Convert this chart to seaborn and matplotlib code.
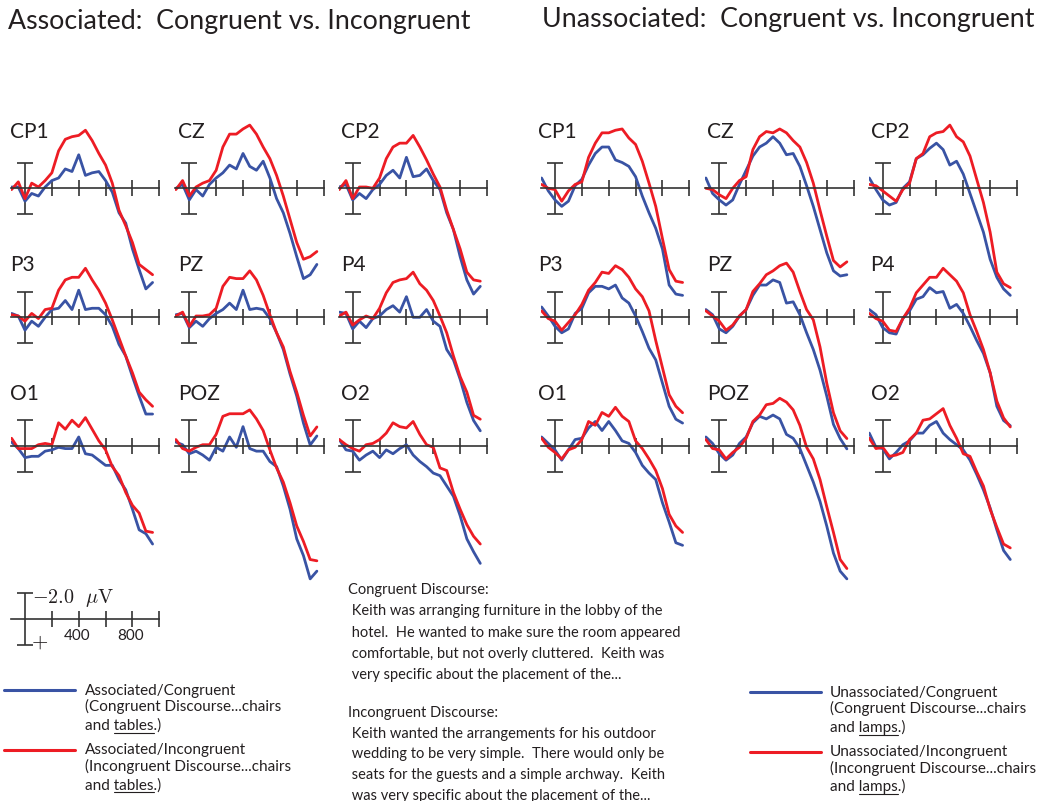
import matplotlib
matplotlib.use("Agg")
from matplotlib import pyplot as plt
from matplotlib.lines import Line2D
import seaborn as sns
import pandas as pd

# sample times (ms) of the digitised waveforms
TIMES = [-100, -50, 0, 50, 100, 150, 200, 250, 300, 350, 400,
         450, 500, 550, 600, 650, 700, 750, 800, 850, 900, 950]

ELECTRODES = [["CP1", "CZ", "CP2"], ["P3", "PZ", "P4"], ["O1", "POZ", "O2"]]

# amplitudes in microvolts (negative plotted up)
ASSOC_CONG = {
    "CP1": [-0.1, -0.1, 1.0, 0.4, 0.6, -0.1, -0.6, -0.8, -1.5, -1.3, -2.6, -1.0, -1.2, -1.3, -0.6, 0.3, 1.9, 2.7, 4.7, 6.3, 7.8, 7.3],
    "CZ": [0.0, -0.3, 0.9, 0.1, 0.6, -0.3, -0.8, -1.2, -1.8, -1.5, -2.7, -1.7, -1.4, -2.1, -0.8, 0.8, 1.9, 3.5, 5.3, 7.0, 6.7, 5.9],
    "CP2": [-0.1, -0.3, 0.9, 0.4, 0.8, 0.1, -0.3, -1.0, -1.4, -0.8, -2.4, -0.9, -1.0, -1.5, -0.6, 0.1, 1.9, 3.2, 5.3, 7.1, 8.2, 7.6],
    "P3": [-0.3, -0.1, 1.0, 0.3, 0.7, 0.0, -0.6, -0.7, -1.3, -0.6, -2.1, -0.6, -0.7, -0.7, -0.2, 0.7, 2.1, 3.0, 4.6, 6.1, 7.5, 7.5],
    "PZ": [-0.2, -0.3, 0.8, 0.3, 0.7, 0.1, -0.3, -0.6, -1.1, -0.6, -2.1, -0.6, -0.7, -0.6, 0.1, 1.2, 2.5, 4.4, 6.1, 8.2, 9.9, 9.2],
    "P4": [-0.4, -0.3, 0.9, 0.3, 0.8, 0.1, -0.1, -0.6, -0.9, -0.4, -1.6, 0.0, 0.0, -0.6, 0.3, 0.7, 2.5, 3.3, 4.8, 6.6, 8.0, 8.8],
    "O1": [-0.3, 0.2, 0.9, 0.8, 0.8, 0.4, 0.3, 0.1, 0.2, 0.2, -0.7, 0.6, 0.7, 1.1, 1.5, 1.5, 2.6, 3.4, 4.9, 6.5, 6.8, 7.6],
    "POZ": [-0.3, -0.1, 0.6, 0.4, 0.7, 1.1, 0.1, 0.4, -0.7, 0.1, -1.5, 0.2, 0.4, 0.4, 1.2, 1.6, 3.1, 4.9, 7.2, 8.5, 10.3, 9.7],
    "O2": [-0.5, 0.3, 0.4, 1.1, 0.7, 0.4, 0.9, 0.3, 0.6, 0.2, -0.1, 0.7, 1.2, 1.6, 2.1, 2.3, 3.1, 3.9, 5.4, 7.2, 8.2, 9.1],
}
ASSOC_INCONG = {
    "CP1": [0.1, -0.5, 0.8, -0.4, -0.1, -0.6, -1.2, -2.9, -3.8, -4.0, -4.1, -4.5, -3.7, -2.7, -1.8, -0.4, 1.7, 2.9, 4.2, 5.9, 6.3, 6.7],
    "CZ": [0.1, -0.6, 0.6, -0.1, -0.4, -0.6, -1.4, -3.2, -4.2, -4.2, -4.6, -4.9, -4.2, -3.2, -2.3, -1.0, 0.6, 2.4, 4.2, 5.5, 5.3, 4.9],
    "CP2": [0.1, -0.6, 0.8, -0.1, -0.1, 0.0, -0.8, -2.3, -3.2, -3.5, -3.5, -4.1, -3.2, -2.2, -1.1, -0.1, 1.7, 3.2, 4.7, 6.5, 7.1, 7.2],
    "P3": [-0.2, -0.1, 0.3, -0.3, 0.1, -0.6, -0.7, -2.1, -2.9, -3.1, -3.1, -3.8, -2.9, -2.1, -1.1, 0.2, 1.6, 3.0, 4.3, 5.8, 6.4, 6.9],
    "PZ": [-0.1, -0.4, 0.7, -0.1, -0.1, -0.2, -0.7, -2.4, -3.1, -3.0, -3.0, -3.6, -2.9, -1.7, -0.2, 1.2, 2.3, 4.2, 5.8, 7.6, 9.2, 8.5],
    "P4": [-0.1, -0.4, 0.6, 0.2, -0.1, 0.1, -0.7, -1.9, -2.7, -2.9, -3.0, -3.5, -2.6, -2.1, -1.3, -0.1, 1.2, 3.0, 4.6, 5.8, 7.6, 7.9],
    "O1": [-0.6, 0.2, 0.2, 0.2, -0.1, -0.2, -0.1, -1.8, -1.3, -2.0, -1.5, -2.2, -1.3, -0.4, 0.3, 1.6, 2.3, 3.6, 4.6, 5.2, 6.6, 6.7],
    "POZ": [-0.5, 0.2, 0.4, 0.1, -0.1, -0.1, -0.9, -2.3, -2.5, -2.5, -2.5, -2.8, -2.1, -1.2, 0.3, 1.7, 2.8, 4.4, 6.2, 7.4, 8.8, 8.9],
    "O2": [-0.5, -0.1, 0.2, 0.4, -0.1, -0.2, -0.5, -1.0, -1.8, -1.5, -1.4, -1.9, -0.9, -0.1, 0.1, 1.7, 1.9, 3.6, 4.9, 6.1, 7.0, 7.6],
}
UNASSOC_CONG = {
    "CP1": [-0.8, 0.2, 0.9, 1.4, 1.0, -0.2, -0.7, -1.8, -2.7, -3.2, -3.2, -2.2, -2.0, -1.7, -0.9, 0.6, 1.9, 3.1, 4.7, 7.5, 8.2, 8.3],
    "CZ": [-0.8, 0.4, 0.9, 1.3, 0.9, -0.3, -1.4, -2.5, -3.2, -3.5, -4.0, -3.5, -2.6, -2.7, -1.7, -0.2, 1.4, 3.2, 5.0, 6.4, 6.8, 6.7],
    "CP2": [-0.8, 0.1, 0.9, 1.3, 1.1, 0.0, -0.5, -2.3, -2.6, -3.1, -3.5, -3.0, -1.8, -2.1, -1.1, 0.4, 1.9, 3.4, 5.5, 6.9, 7.8, 8.3],
    "P3": [-0.8, -0.1, 0.7, 1.2, 0.9, -0.3, -0.7, -1.9, -2.4, -2.4, -2.2, -2.5, -1.5, -1.1, -0.1, 1.1, 2.4, 3.3, 5.1, 6.9, 7.9, 8.2],
    "PZ": [-0.6, -0.2, 0.9, 1.2, 0.7, -0.1, -0.6, -1.7, -2.5, -2.5, -2.9, -2.7, -1.1, -1.2, -0.2, 1.2, 2.5, 4.1, 6.1, 8.3, 9.4, 10.2],
    "P4": [-0.6, -0.2, 0.8, 1.2, 1.3, 0.1, -0.5, -1.4, -1.6, -2.3, -1.9, -2.0, -0.7, -1.0, -0.3, 0.7, 1.8, 2.8, 4.3, 6.9, 8.0, 8.4],
    "O1": [-0.7, -0.2, 0.3, 1.1, 0.3, -0.5, -0.6, -1.4, -1.9, -1.2, -1.9, -1.2, -0.4, -0.2, 0.5, 1.5, 2.1, 2.6, 4.4, 5.9, 7.5, 7.7],
    "POZ": [-0.7, -0.2, 0.6, 1.1, 0.7, -0.2, -0.7, -1.8, -2.3, -2.1, -2.4, -2.1, -0.9, -0.6, 0.2, 1.5, 2.8, 4.3, 6.2, 8.3, 9.7, 10.3],
    "O2": [-1.0, 0.1, 0.2, 1.0, 0.5, -0.1, -0.4, -1.0, -1.0, -1.6, -1.9, -1.0, -0.5, -0.1, 0.3, 1.1, 2.2, 3.4, 4.8, 6.5, 8.1, 8.8],
}
UNASSOC_INCONG = {
    "CP1": [-0.3, 0.0, 0.1, 1.0, 0.2, -0.3, -0.5, -2.4, -3.5, -4.3, -4.3, -4.5, -4.6, -3.9, -3.4, -2.1, -0.4, 1.4, 3.9, 6.3, 7.2, 7.3],
    "CZ": [0.0, 0.1, 0.5, 0.8, 0.0, -0.6, -0.9, -3.0, -4.0, -4.4, -4.3, -4.6, -4.3, -3.7, -3.2, -2.0, -0.4, 1.7, 3.7, 5.6, 6.1, 5.7],
    "CP2": [-0.3, -0.2, 0.2, 0.6, 1.0, 0.1, -0.4, -2.3, -2.7, -4.0, -4.3, -4.4, -4.9, -4.0, -3.6, -2.5, -0.7, 1.1, 3.4, 6.5, 7.4, 7.7],
    "P3": [-0.5, 0.1, 0.3, 1.0, 0.4, -0.2, -1.0, -2.1, -2.7, -3.5, -3.4, -4.0, -3.7, -3.1, -2.2, -1.6, -0.5, 1.8, 3.9, 6.0, 6.9, 7.4],
    "PZ": [-0.5, -0.1, 0.3, 1.0, 0.6, -0.1, -0.6, -2.0, -2.6, -3.3, -3.6, -4.0, -4.2, -3.5, -2.0, -0.6, 0.2, 2.3, 5.1, 7.4, 8.8, 9.4],
    "P4": [-0.3, 0.1, 0.3, 1.0, 1.1, 0.1, -0.7, -1.9, -2.5, -3.1, -3.1, -3.8, -3.3, -2.8, -1.9, -0.2, 1.1, 2.5, 4.3, 6.5, 7.8, 8.5],
    "O1": [-0.6, 0.1, 0.5, 1.0, 0.3, 0.1, -0.5, -1.9, -1.6, -2.6, -2.3, -3.0, -2.3, -1.9, -0.4, 0.2, 1.0, 1.9, 3.3, 5.3, 6.2, 6.7],
    "POZ": [-0.5, 0.2, 0.3, 1.0, 0.5, 0.1, -0.6, -1.9, -2.4, -3.2, -3.3, -3.7, -3.4, -2.8, -1.6, 0.1, 1.0, 2.6, 4.7, 6.7, 8.8, 9.5],
    "O2": [-0.6, 0.2, 0.1, 0.8, 0.7, 0.5, -0.5, -1.0, -2.0, -2.1, -2.5, -2.9, -1.6, -0.6, 0.6, 0.8, 2.0, 3.1, 4.9, 6.3, 7.6, 7.9],
}

TITLES = ["Associated:  Congruent vs. Incongruent", "Unassociated:  Congruent vs. Incongruent"]

CONG_TEXT = [
    "Congruent Discourse:",
    " Keith was arranging furniture in the lobby of the",
    " hotel.  He wanted to make sure the room appeared",
    " comfortable, but not overly cluttered.  Keith was",
    " very specific about the placement of the...",
]
INCONG_TEXT = [
    "Incongruent Discourse:",
    " Keith wanted the arrangements for his outdoor",
    " wedding to be very simple.  There would only be",
    " seats for the guests and a simple archway.  Keith",
    " was very specific about the placement of the...",
]

BLUE = "#3953A4"
RED = "#ED1C24"
AXC = "#333333"
TXT = "#231F20"

W, H = 1050, 801
PX_MS = 0.1343   # pixels per ms
PX_UV = 12.9     # pixels per microvolt


def fy(py):
    return 1 - py / H


def make_panel(fig, x0, y0, top=75, bottom=140):
    left = x0 - 105 * PX_MS
    ax = fig.add_axes([left / W, fy(y0 + bottom), 1105 * PX_MS / W, (top + bottom) / H])
    ax.patch.set_visible(False)
    for s in ["top", "right", "left"]:
        ax.spines[s].set_visible(False)
    ax.spines["bottom"].set_position(("data", 0))
    ax.spines["bottom"].set_color(AXC)
    ax.spines["bottom"].set_linewidth(1.2)
    ax.set_xticks([200, 400, 600, 800, 1000])
    ax.set_xticklabels([])
    ax.set_yticks([])
    ax.tick_params(axis="x", bottom=True, direction="inout", length=12,
                   width=1.2, color=AXC)
    ax.errorbar([0], [0], yerr=[[2], [2]], fmt="none", ecolor=AXC,
                elinewidth=1.2, capsize=6, capthick=1.2)
    ax.set_xlim(-105, 1000)
    ax.set_ylim(bottom / PX_UV, -top / PX_UV)
    return ax


def plot_panel(ax, cong, incong):
    n = len(TIMES)
    df = pd.DataFrame({
        "time": TIMES + TIMES,
        "uv": cong + incong,
        "cond": ["Congruent"] * n + ["Incongruent"] * n,
    })
    sns.lineplot(data=df, x="time", y="uv", hue="cond",
                 palette={"Congruent": BLUE, "Incongruent": RED},
                 estimator=None, linewidth=2.0, legend=False, ax=ax)
    ax.set_xlabel("")
    ax.set_ylabel("")
    ax.set_xlim(-105, 1000)


def text_width(fig, s, **kw):
    r = fig.canvas.get_renderer()
    t = fig.text(0, 0, s, **kw)
    w = t.get_window_extent(renderer=r).width
    t.remove()
    return w


def underlined(fig, x, y, pre, word, post, **kw):
    # text on baseline y (pixels) with one underlined word
    fig.text(x / W, fy(y), pre + word + post, va="baseline", **kw)
    x0 = x + text_width(fig, pre + word, **kw) - text_width(fig, word, **kw)
    x1 = x + text_width(fig, pre + word, **kw)
    fig.add_artist(Line2D([x0 / W, x1 / W], [fy(y + 2.5), fy(y + 2.5)],
                          color=TXT, lw=0.8, transform=fig.transFigure))


sns.set_style("white")
plt.rcParams["font.family"] = ["Lato", "DejaVu Sans"]
plt.rcParams["mathtext.fontset"] = "cm"

fig = plt.figure(figsize=(10.5, 8.01), dpi=100)

COL_X = [[25, 189.3, 352.7], [555, 719.3, 882.7]]
LABEL_X = [[10, 178, 341.5], [538, 707, 870.5]]
ROW_Y = [188.3, 317.3, 446.0]
LABEL_Y = [132, 265, 394]
GROUPS = [(ASSOC_CONG, ASSOC_INCONG), (UNASSOC_CONG, UNASSOC_INCONG)]

for g, (cong, incong) in enumerate(GROUPS):
    for r, row in enumerate(ELECTRODES):
        for c, name in enumerate(row):
            ax = make_panel(fig, COL_X[g][c], ROW_Y[r])
            plot_panel(ax, cong[name], incong[name])
            fig.text(LABEL_X[g][c] / W, fy(LABEL_Y[r]), name, fontsize=15,
                     va="center", ha="left", color=TXT)

fig.text(8 / W, fy(22), TITLES[0], fontsize=19.3, va="center", color=TXT)
fig.text(542 / W, fy(20), TITLES[1], fontsize=19.3, va="center", color=TXT)

# calibration bar
cal = make_panel(fig, 25, 619, top=40, bottom=40)
fig.text(77 / W, fy(636), "400", fontsize=11, ha="center", va="center", color=TXT)
fig.text(131 / W, fy(636), "800", fontsize=11, ha="center", va="center", color=TXT)
fig.text(32 / W, fy(598), r"$-2.0\ \ \mu\mathrm{V}$", fontsize=14.5, va="center", color=TXT)
fig.text(40 / W, fy(642), r"$+$", fontsize=15, ha="center", va="center", color=TXT)

# discourse examples
for i, line in enumerate(CONG_TEXT):
    fig.text(348 / W, fy(590 + i * 21.3), line, fontsize=10.5, va="center", color=TXT)
for i, line in enumerate(INCONG_TEXT):
    fig.text(348 / W, fy(713 + i * 20.7), line, fontsize=10.5, va="center", color=TXT)

# legends
LEG = dict(fontsize=11, color=TXT)
for lx, tx, y_first, words, cond_names in [
        (4, 85, 690, "tables", ["Associated/Congruent", "Associated/Incongruent"]),
        (750, 830, 692, "lamps", ["Unassociated/Congruent", "Unassociated/Incongruent"])]:
    for k, (col, disc) in enumerate([(BLUE, "(Congruent Discourse...chairs"),
                                     (RED, "(Incongruent Discourse...chairs")]):
        yl = y_first + k * 59.5
        fig.add_artist(Line2D([lx / W, (lx + 71) / W], [fy(yl), fy(yl)],
                              color=col, lw=2.2, transform=fig.transFigure))
        fig.text(tx / W, fy(yl + 0.5), cond_names[k], va="center", **LEG)
        fig.text(tx / W, fy(yl + 16.5), disc, va="center", **LEG)
        underlined(fig, tx, yl + 40, "and ", words, ".)", **LEG)

fig.savefig("out.png", dpi=100)
